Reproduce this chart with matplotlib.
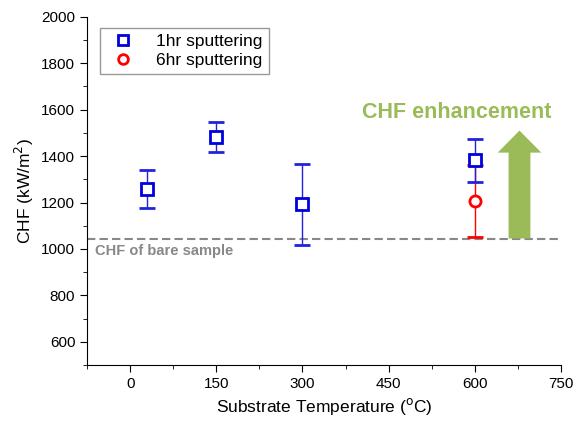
import matplotlib.pyplot as plt
from matplotlib.ticker import MultipleLocator
from matplotlib.patches import FancyArrow
from matplotlib.lines import Line2D

plt.rcParams['font.family'] = ['Liberation Sans', 'DejaVu Sans']

# 1hr sputtering
temp_1hr = [30, 150, 300, 600]
chf_1hr = [1260, 1482, 1192, 1385]
err_lo_1hr = [82, 66, 174, 95]
err_hi_1hr = [80, 66, 175, 90]

# 6hr sputtering
temp_6hr = [600]
chf_6hr = [1208]
err_lo_6hr = [155]
err_hi_6hr = [152]

bare_chf = 1045
green = '#9bbb59'

fig = plt.figure(figsize=(5.77, 4.21), dpi=100)
ax = fig.add_axes([0.151, 0.133, 0.821, 0.827])

ax.errorbar(temp_6hr, chf_6hr, yerr=[err_lo_6hr, err_hi_6hr], fmt='o', ms=8,
            mfc='white', mec='red', mew=2, ecolor='red', elinewidth=1,
            capsize=6, capthick=1, zorder=3)
ax.errorbar(temp_1hr, chf_1hr, yerr=[err_lo_1hr, err_hi_1hr], fmt='s', ms=8,
            mfc='white', mec='#0000dd', mew=2, ecolor='#2222dd', elinewidth=1,
            capsize=6, capthick=1, zorder=4)

ax.axhline(bare_chf, color='#888888', ls='--', lw=1.5, dashes=(4, 2), zorder=1)
ax.text(-62, 990, 'CHF of bare sample', color='#888888', fontsize=10.5,
        fontweight='bold', va='center')

# enhancement arrow
arrow = FancyArrow(678, bare_chf, 0, 1510 - bare_chf, width=38, head_width=76,
                   head_length=95, length_includes_head=True,
                   color=green, lw=0, zorder=2)
ax.add_patch(arrow)
ax.text(569, 1587, 'CHF enhancement', color=green, fontsize=15.5,
        fontweight='bold', ha='center', va='center')

ax.set_xlim(-75, 750)
ax.set_ylim(500, 2000)
ax.xaxis.set_major_locator(MultipleLocator(150))
ax.xaxis.set_minor_locator(MultipleLocator(75))
ax.yaxis.set_minor_locator(MultipleLocator(100))
ax.set_yticks([600, 800, 1000, 1200, 1400, 1600, 1800, 2000])
ax.spines['top'].set_visible(False)
ax.spines['right'].set_visible(False)
ax.tick_params(which='major', length=5, labelsize=11)
ax.tick_params(which='minor', length=3)

ax.set_xlabel('Substrate Temperature ($^{\\rm o}$C)', fontsize=12.5)
ax.set_ylabel('CHF (kW/m$^{\\rm 2}$)', fontsize=12.5)

handles = [
    Line2D([], [], marker='s', ls='none', ms=7, mfc='white', mec='#0000dd', mew=2),
    Line2D([], [], marker='o', ls='none', ms=7, mfc='white', mec='red', mew=2),
]
ax.legend(handles, ['1hr sputtering', '6hr sputtering'], loc='upper left',
          bbox_to_anchor=(0.027, 0.968), fontsize=12.5, fancybox=False,
          edgecolor='gray', handletextpad=0.9, borderpad=0.35,
          labelspacing=0.2, borderaxespad=0)

fig.savefig('out.png', dpi=100)
